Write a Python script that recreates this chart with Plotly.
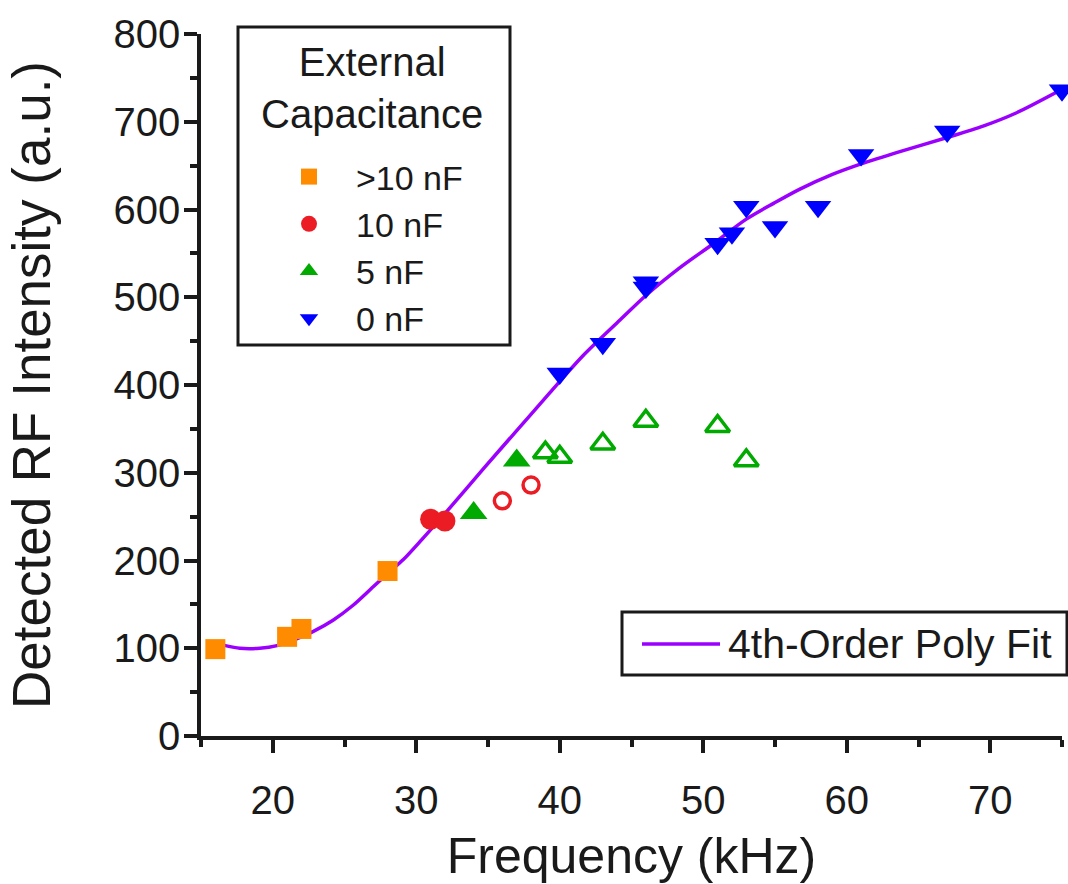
import plotly.graph_objects as go

# ---- data ----
gt10_x = [16, 21, 22, 28]
gt10_y = [99, 113, 122, 188]

c10_filled_x = [31, 32]
c10_filled_y = [247, 245]
c10_open_x = [36, 38]
c10_open_y = [268, 286]

c5_filled_x = [34, 37]
c5_filled_y = [254, 314]
c5_open_x = [39, 40, 43, 46, 51, 53]
c5_open_y = [323, 318, 333, 359, 353, 314]

c0_x = [40, 43, 46, 46, 51, 52, 53, 55, 58, 61, 67, 75]
c0_y = [413, 447, 517, 511, 561, 573, 603, 580, 603, 662, 689, 736]

fit_x = [16.0, 16.7, 17.7, 19.1, 20.3, 21.7, 22.8, 24.2, 25.6, 27.0, 28.0, 29.1, 30.4,
         32.4, 34.7, 37.0, 39.3, 41.6, 44.2, 46.0, 48.4, 50.7, 53.0, 54.9, 56.7,
         59.0, 61.0, 63.7, 67.0, 69.5, 71.8, 75.0]
fit_y = [106, 103, 100, 100, 103, 111, 119, 132, 149, 170, 185, 201, 224,
         261, 305, 348, 391, 433, 474, 502, 534, 561, 589, 607, 623,
         640, 652, 666, 682, 695, 710, 737]

x_ticks = [20, 30, 40, 50, 60, 70]
y_ticks = [0, 100, 200, 300, 400, 500, 600, 700, 800]

ORANGE = "#FF8C00"
RED = "#EC1C24"
GREEN = "#00AA00"
BLUE = "#0000FF"
PURPLE = "#9B00FF"
INK = "#1a1a1a"
FONT = "Liberation Sans, Arial, sans-serif"

fig = go.Figure()

fig.add_trace(go.Scatter(x=fit_x, y=fit_y, mode="lines", name="4th-Order Poly Fit",
                         line=dict(color=PURPLE, width=3.5, shape="spline", smoothing=0.8),
                         showlegend=False, cliponaxis=False))

fig.add_trace(go.Scatter(x=gt10_x, y=gt10_y, mode="markers", name=">10 nF",
                         marker=dict(symbol="square", size=20, color=ORANGE),
                         cliponaxis=False))
fig.add_trace(go.Scatter(x=c10_filled_x, y=c10_filled_y, mode="markers", name="10 nF",
                         legendgroup="c10",
                         marker=dict(symbol="circle", size=21, color=RED), cliponaxis=False))
fig.add_trace(go.Scatter(x=c10_open_x, y=c10_open_y, mode="markers", name="10 nF",
                         legendgroup="c10", showlegend=False,
                         marker=dict(symbol="circle-open", size=16, color=RED,
                                     line=dict(width=3.5, color=RED)), cliponaxis=False))
fig.add_trace(go.Scatter(x=c5_filled_x, y=c5_filled_y, mode="markers", name="5 nF",
                         legendgroup="c5",
                         marker=dict(symbol="triangle-up", size=24, color=GREEN), cliponaxis=False))
fig.add_trace(go.Scatter(x=c5_open_x, y=c5_open_y, mode="markers", name="5 nF",
                         legendgroup="c5", showlegend=False,
                         marker=dict(symbol="triangle-up-open", size=21, color=GREEN,
                                     line=dict(width=3.5, color=GREEN)), cliponaxis=False))
fig.add_trace(go.Scatter(x=c0_x, y=c0_y, mode="markers", name="0 nF",
                         marker=dict(symbol="triangle-down", size=23, color=BLUE), cliponaxis=False))

# plot area in pixels: x 201..1062, y 34..736
W, H = 1068, 884
L, R, T, B = 201, 1062, 34, 736
pw, ph = R - L, B - T


def px(xp):
    return (xp - L) / pw


def py(yp):
    return (B - yp) / ph


axis_common = dict(
    showline=True, linecolor=INK, linewidth=3.5, mirror=False,
    ticks="outside", ticklen=13, tickwidth=3.5, tickcolor=INK,
    showgrid=False, zeroline=False,
    tickfont=dict(family=FONT, size=40, color=INK),
)

fig.update_layout(
    width=W, height=H,
    margin=dict(l=L, r=W - R, t=T, b=H - B, pad=0),
    paper_bgcolor="white", plot_bgcolor="white",
    font=dict(family=FONT, color=INK),
    xaxis=dict(range=[15, 75], tickvals=x_ticks,
               minor=dict(dtick=5, tick0=0, ticks="outside", ticklen=7, tickwidth=3.5,
                          tickcolor=INK),
               title=dict(text="Frequency (kHz)", font=dict(family=FONT, size=50),
                          standoff=20),
               ticklabelstandoff=13,
               **axis_common),
    yaxis=dict(range=[0, 800], tickvals=y_ticks,
               minor=dict(dtick=50, tick0=0, ticks="outside", ticklen=7, tickwidth=3.5,
                          tickcolor=INK),
               title=dict(text="Detected RF Intensity (a.u.)", font=dict(family=FONT, size=53),
                          standoff=47),
               ticklabelstandoff=-4,
               **axis_common),
    legend=dict(x=px(262), y=py(148), xanchor="left", yanchor="top",
                bgcolor="rgba(0,0,0,0)", borderwidth=0,
                font=dict(family=FONT, size=34, color=INK),
                tracegroupgap=0, itemwidth=84),
    showlegend=True,
)

# legend box + title
fig.add_shape(type="rect", xref="paper", yref="paper",
              x0=px(238), x1=px(510), y0=py(345), y1=py(27),
              line=dict(color=INK, width=3), fillcolor="rgba(0,0,0,0)", layer="above")
fig.add_annotation(xref="paper", yref="paper", x=px(372), y=py(88),
                   text="External<br>Capacitance", showarrow=False,
                   font=dict(family=FONT, size=40, color=INK),
                   xanchor="center", yanchor="middle", align="center")

# fit legend box
fig.add_shape(type="rect", xref="paper", yref="paper",
              x0=px(622), x1=px(1067), y0=py(675), y1=py(612),
              line=dict(color=INK, width=3), fillcolor="white", layer="above")
fig.add_shape(type="line", xref="paper", yref="paper",
              x0=px(642), x1=px(720), y0=py(644), y1=py(644),
              line=dict(color=PURPLE, width=3.5), layer="above")
fig.add_annotation(xref="paper", yref="paper", x=px(726), y=py(644),
                   text="4th-Order Poly Fit", showarrow=False,
                   font=dict(family=FONT, size=41, color=INK),
                   xanchor="left", yanchor="middle")

fig.write_html("out.html")
